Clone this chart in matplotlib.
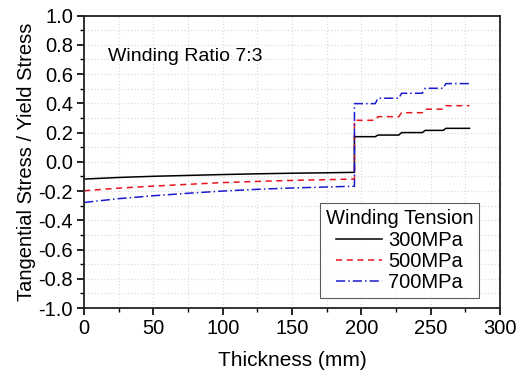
import matplotlib
matplotlib.use("Agg")
import matplotlib.pyplot as plt
from matplotlib.ticker import MultipleLocator

plt.rcParams["font.family"] = ["Liberation Sans", "DejaVu Sans"]

# inner region (before the jump at ~195 mm)
x_inner = [0, 25, 50, 75, 100, 125, 150, 175, 195]
s300_inner = [-0.118, -0.107, -0.099, -0.093, -0.087, -0.082, -0.078, -0.075, -0.072]
s500_inner = [-0.198, -0.180, -0.166, -0.154, -0.142, -0.134, -0.127, -0.122, -0.118]
s700_inner = [-0.278, -0.252, -0.232, -0.215, -0.200, -0.188, -0.179, -0.172, -0.167]

# outer region (stepped)
x_outer = [195, 210, 212, 227, 229, 244, 246, 259, 261, 278]
s300_outer = [0.172, 0.172, 0.183, 0.183, 0.200, 0.200, 0.215, 0.215, 0.229, 0.229]
s500_outer = [0.284, 0.284, 0.309, 0.309, 0.336, 0.336, 0.360, 0.360, 0.384, 0.384]
s700_outer = [0.398, 0.398, 0.435, 0.435, 0.469, 0.469, 0.503, 0.503, 0.535, 0.535]

labels = ["300MPa", "500MPa", "700MPa"]
colors = ["#000000", "#e8141b", "#1a1ad0"]
styles = ["-", (0, (4, 3)), (0, (6, 2, 1, 2))]

fig = plt.figure(figsize=(5.16, 3.72), dpi=100)
ax = fig.add_axes([0.163, 0.172, 0.806, 0.786])

for inner, outer, lab, c, ls in zip(
    [s300_inner, s500_inner, s700_inner],
    [s300_outer, s500_outer, s700_outer],
    labels, colors, styles,
):
    ax.plot(x_inner + x_outer, inner + outer, color=c, linestyle=ls, linewidth=1.1, label=lab)

ax.set_xlim(0, 300)
ax.set_ylim(-1.0, 1.0)
ax.xaxis.set_major_locator(MultipleLocator(50))
ax.xaxis.set_minor_locator(MultipleLocator(25))
ax.yaxis.set_major_locator(MultipleLocator(0.2))
ax.yaxis.set_minor_locator(MultipleLocator(0.1))
ax.yaxis.set_major_formatter(plt.FormatStrFormatter("%.1f"))

ax.grid(True, which="both", color="#d8d8d8", linestyle=(0, (1, 2)), linewidth=0.8)
ax.set_axisbelow(True)

ax.tick_params(which="major", direction="out", length=5, width=1.2, labelsize=14.5, pad=3)
ax.tick_params(which="minor", direction="out", length=3, width=1.0)
for sp in ax.spines.values():
    sp.set_linewidth(1.3)
    sp.set_color("#222222")

ax.set_xlabel("Thickness (mm)", fontsize=15, labelpad=9)
ax.set_ylabel("Tangential Stress / Yield Stress", fontsize=14.5, labelpad=2)

ax.text(17, 0.72, "Winding Ratio 7:3", fontsize=14, va="center", ha="left")

leg = ax.legend(title="Winding Tension", loc="lower right", fontsize=14.5, title_fontsize=14.5,
                frameon=True, fancybox=False, edgecolor="#333333", handlelength=2.3,
                borderaxespad=0.0, labelspacing=0.1, handletextpad=0.3, borderpad=0.3,
                bbox_to_anchor=(0.95, 0.034))
leg.get_frame().set_linewidth(0.8)
leg._legend_box.sep = 2

fig.savefig("out.png", dpi=100)
